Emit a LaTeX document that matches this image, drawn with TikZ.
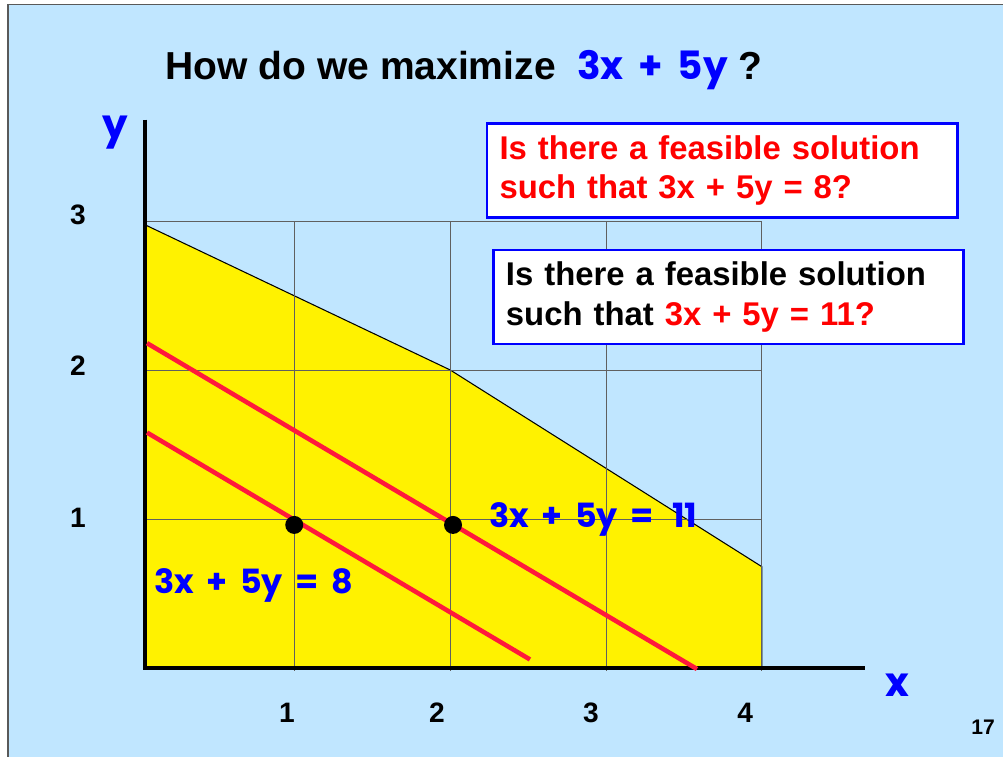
\documentclass[tikz,border=0pt]{standalone}
\usepackage{fontspec}
\setmainfont{Liberation Sans}
\newfontfamily\eqfont{Poppins}
\definecolor{sfondo}{RGB}{192,230,255}
\definecolor{rosso}{RGB}{255,25,60}
\definecolor{blu}{RGB}{0,0,255}
\begin{document}
\begin{tikzpicture}[x=3.116cm,y=2.98cm,
    etich/.style={font=\fontsize{16}{19}\selectfont\bfseries},
    equaz/.style={font=\eqfont\fontsize{19}{22}\selectfont\bfseries, text=blu},
    domanda/.style={draw=blu, line width=1.6pt, fill=white, minimum width=9.4cm,
        minimum height=1.88cm, text width=8.9cm, align=left,
        font=\fontsize{18.7}{22.5}\selectfont\bfseries, inner sep=0pt}]
    % sfondo e cornice
    \useasboundingbox (-0.8896,-0.597) rectangle (5.548,4.483);
    \fill[sfondo] (-0.8383,-0.597) rectangle (5.548,4.45);
    \draw[gray!70!black, line width=0.6pt] (-0.8383,-0.597) -- (-0.8383,4.45) -- (5.548,4.45);

    % regione ammissibile
    \def\xa{0.044}
    \fill[yellow] (\xa,0) -- (\xa,2.973) -- (2,2) -- (4,0.68) -- (4,0) -- cycle;
    \draw[line width=0.6pt] (\xa,2.973) -- (2,2) -- (4,0.68) -- (4,0);

    % griglia
    \foreach \i in {1,...,4}
        \draw[gray!75!black, line width=0.5pt] (\i,-0.02) -- (\i,3);
    \foreach \j in {1,2,3}
        \draw[gray!75!black, line width=0.5pt] (\xa,\j) -- (4,\j);

    % assi
    \draw[line width=2.3pt] (\xa,3.68) -- (\xa,0) -- (4.662,0);
    \node[equaz, font=\eqfont\fontsize{23}{26}\selectfont\bfseries] (ylab) at (-0.152,3.59) {y};
    \node[equaz, font=\eqfont\fontsize{23}{26}\selectfont\bfseries] (xlab) at (4.868,-0.115) {x};

    % tacche
    \foreach \k/\px in {1/0.9525,2/1.915,3/2.904,4/3.893}
        \node[etich] (tx\k) at (\px,-0.302) {\k};
    \foreach \k/\py in {1/1.007,2/2.03,3/3.04}
        \node[etich] (ty\k) at (-0.389,\py) {\k};

    % rette di livello
    \draw[rosso, line width=2.6pt] (0.054,1.58) -- (2.512,0.057);
    \draw[rosso, line width=2.6pt] (0.054,2.18) -- (3.584,-0.007);

    % punti
    \fill (0.999,0.96) circle (0.18cm);
    \fill (2.018,0.96) circle (0.18cm);
    \node[equaz, anchor=west] (eq11) at (2.21,1.0) {3x\,\ +\,\ 5y\,\ =\,\ \,11};
    \node[equaz, anchor=west] (eq8) at (0.06,0.557) {3x\,\ +\,\ 5y\,\ =\,\ 8};

    % titolo e domande
    \node[font=\fontsize{22.2}{26}\selectfont\bfseries] (titolo) at (2.089,4.01)
        {How do we maximize\ \ {\eqfont\color{blu}3x\,\ +\,\ 5y} ?};
    \node[domanda, text=red] (q8) at (3.745,3.34)
        {Is there a feasible solution\\ such that 3x + 5y = 8?};
    \node[domanda] (q11) at (3.786,2.49)
        {Is there a feasible solution\\ such that \textcolor{red}{3x + 5y = 11?}};

    \node[font=\fontsize{12}{14}\selectfont\bfseries] (pag) at (5.42,-0.396) {17};
\end{tikzpicture}
\end{document}
